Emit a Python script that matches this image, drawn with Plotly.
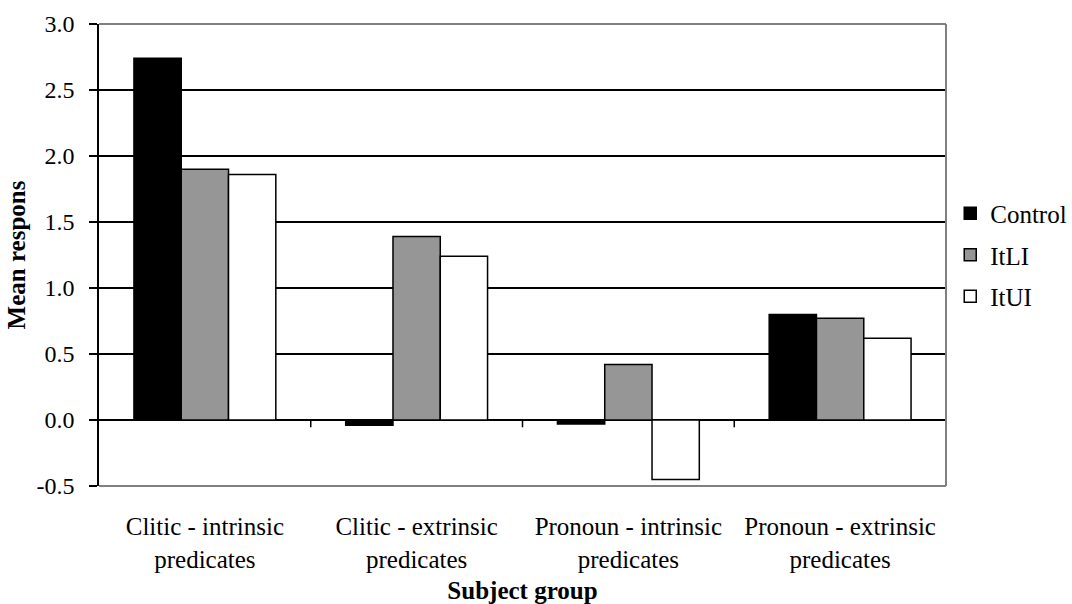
import plotly.graph_objects as go

categories = [
    "Clitic - intrinsic<br>predicates",
    "Clitic - extrinsic<br>predicates",
    "Pronoun - intrinsic<br>predicates",
    "Pronoun - extrinsic<br>predicates",
]
series_names = ["Control", "ItLI", "ItUI"]
control = [2.74, -0.04, -0.03, 0.80]
itli = [1.90, 1.39, 0.42, 0.77]
itui = [1.86, 1.24, -0.45, 0.62]
y_ticks = [-0.5, 0.0, 0.5, 1.0, 1.5, 2.0, 2.5, 3.0]
y_ticklabels = ["-0.5", "0.0", "0.5", "1.0", "1.5", "2.0", "2.5", "3.0"]

colors = ["#000000", "#969696", "#ffffff"]
FONT = "Liberation Serif"
FS = 25
TFS = 24

fig = go.Figure()
for i, (name, vals, col) in enumerate(zip(series_names, [control, itli, itui], colors)):
    fig.add_trace(go.Bar(
        x=list(range(len(categories))), y=vals, name=name, legendgroup=f"g{i}",
        marker=dict(color=col, line=dict(color="#000000", width=1.5)),
    ))

shapes = []
for i in range(len(categories)):
    b = i + 0.5
    shapes.append(dict(type="line", xref="x", yref="y", x0=b, x1=b, y0=0, y1=-0.055,
                       line=dict(color="#000000", width=1.5), layer="above"))
shapes.append(dict(type="line", xref="paper", yref="paper", x0=0, x1=1, y0=1, y1=1,
                   line=dict(color="#808080", width=2), layer="above"))
shapes.append(dict(type="line", xref="paper", yref="paper", x0=1, x1=1, y0=0, y1=1,
                   line=dict(color="#808080", width=2), layer="above"))
shapes.append(dict(type="line", xref="paper", yref="paper", x0=0, x1=1, y0=0, y1=0,
                   line=dict(color="#808080", width=2), layer="above"))

fig.update_layout(
    width=1072, height=604,
    margin=dict(l=99, r=126, t=24, b=118, autoexpand=False),
    paper_bgcolor="white", plot_bgcolor="white",
    font=dict(family=FONT, size=FS, color="#000000"),
    barmode="group", bargap=0.33, bargroupgap=0,
    shapes=shapes,
    showlegend=True,
    legend=dict(x=1.005, xanchor="left", y=0.5, yanchor="middle",
                font=dict(family=FONT, size=FS, color="#000000"),
                bgcolor="rgba(0,0,0,0)", itemwidth=30, tracegroupgap=6),
    xaxis=dict(
        automargin=False,
        tickmode="array", tickvals=list(range(len(categories))), ticktext=categories,
        range=[-0.5, len(categories) - 0.5],
        showgrid=False, zeroline=False, showline=False, ticks="",
        ticklabelstandoff=23,
        tickfont=dict(family=FONT, size=FS, color="#000000"),
        title=dict(text="<b>Subject group</b>", standoff=13,
                   font=dict(family=FONT, size=FS, color="#000000")),
    ),
    yaxis=dict(
        automargin=False,
        range=[-0.5, 3.0], tickmode="array", tickvals=y_ticks, ticktext=y_ticklabels,
        showgrid=True, gridcolor="#000000", gridwidth=1.5,
        zeroline=True, zerolinecolor="#000000", zerolinewidth=1.5,
        showline=True, linecolor="#000000", linewidth=1.5,
        ticks="outside", ticklen=8, tickwidth=1.5, tickcolor="#000000",
        ticklabelstandoff=10,
        tickfont=dict(family=FONT, size=TFS, color="#000000"),
        title=dict(text="<b>Mean respons</b>", standoff=4,
                   font=dict(family=FONT, size=FS, color="#000000")),
    ),
)

fig.write_html("out.html", config={"displayModeBar": False},
               post_script="document.body.style.margin='0';")
